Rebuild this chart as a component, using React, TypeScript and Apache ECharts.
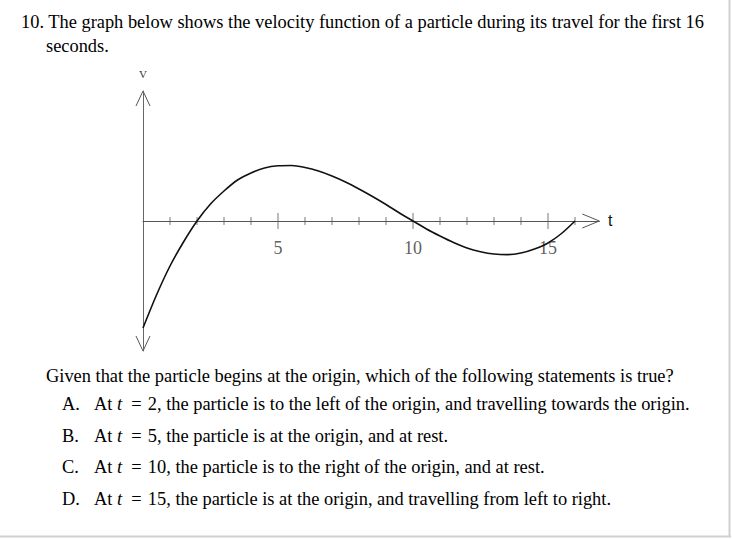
import React, { useEffect, useRef } from "react";
import * as echarts from "echarts";

// Velocity readings (t in seconds, v in grid units)
const tValues = [0, 0.5, 1, 1.5, 2, 2.5, 3, 3.5, 4, 4.5, 5, 5.5, 6, 6.5, 7, 7.5, 8, 8.5, 9, 9.5, 10, 10.5, 11, 11.5, 12, 12.5, 13, 13.5, 14, 14.5, 15, 15.5, 16];
const vValues = [-10.7, -7.4, -4.5, -2.1, 0, 1.7, 3.0, 4.1, 4.8, 5.3, 5.52, 5.55, 5.35, 5.0, 4.5, 3.9, 3.2, 2.45, 1.65, 0.8, 0, -0.8, -1.5, -2.15, -2.7, -3.07, -3.3, -3.36, -3.2, -2.8, -2.2, -1.25, 0];

// Tick marks on the t axis
const minorTicks = [1, 2, 3, 4, 6, 7, 8, 9, 11, 12, 13, 14, 16];
const majorTicks = [5, 10, 15];

const questionTitle = [
  "10. The graph below shows the velocity function of a particle during its travel for the first 16",
  "seconds.",
];
const questionPrompt =
  "Given that the particle begins at the origin, which of the following statements is true?";
const optionLetters = ["A.", "B.", "C.", "D."];
const optionTimes = [2, 5, 10, 15];
const optionTexts = [
  ", the particle is to the left of the origin, and travelling towards the origin.",
  ", the particle is at the origin, and at rest.",
  ", the particle is to the right of the origin, and at rest.",
  ", the particle is at the origin, and travelling from left to right.",
];

const SERIF = "'Liberation Serif', 'Times New Roman', serif";
const FS = 18.4;

export default function App() {
  const ref = useRef<HTMLDivElement>(null);

  useEffect(() => {
    if (!ref.current) return;
    const chart = echarts.init(ref.current, undefined, { renderer: "svg" });

    const xMax = 16.9;
    const yMin = -13;
    const yMax = 13;

    chart.setOption({
      animation: false,
      backgroundColor: "#ffffff",
      grid: { left: 143, top: 91, width: xMax * 27, height: 260 },
      xAxis: {
        type: "value",
        min: 0,
        max: xMax,
        interval: 1,
        axisLine: { show: true, onZero: true, lineStyle: { color: "#555", width: 1 } },
        axisTick: { show: false },
        splitLine: { show: false },
        axisLabel: { show: false },
      },
      yAxis: {
        type: "value",
        min: yMin,
        max: yMax,
        axisLine: { show: true, onZero: true, lineStyle: { color: "#666", width: 1 } },
        axisTick: { show: false },
        axisLabel: { show: false },
        splitLine: { show: false },
      },
      series: [
        {
          type: "scatter",
          symbol: "rect",
          symbolSize: [1, 8],
          itemStyle: { color: "#555" },
          data: minorTicks.map((t) => [t, 0]),
          silent: true,
          z: 1,
        },
        {
          type: "scatter",
          symbol: "rect",
          symbolSize: [1, 16],
          itemStyle: { color: "#555" },
          data: majorTicks.map((t) => [t, 0]),
          silent: true,
          z: 1,
          label: {
            show: true,
            position: "bottom",
            distance: 10,
            color: "#333",
            fontFamily: SERIF,
            fontSize: 18,
            formatter: (p: any) => String(p.value[0]),
          },
        },
        {
          type: "line",
          smooth: 0.3,
          showSymbol: false,
          lineStyle: { color: "#111", width: 1.6 },
          data: tValues.map((t, i) => [t, vValues[i]]),
          z: 3,
        },
      ],
    });

    const px = (x: number, y: number) =>
      chart.convertToPixel({ gridIndex: 0 }, [x, y]) as number[];

    const yTop = px(0, yMax);
    const yBot = px(0, yMin);
    const xEnd = px(xMax, 0);

    const arrowStyle = { stroke: "#555", lineWidth: 1, fill: "none" };

    const textEls: any[] = [];
    textEls.push({
      type: "text",
      style: { text: questionTitle[0], x: 21, y: 22, fontFamily: SERIF, fontSize: FS, fill: "#000", verticalAlign: "middle" },
    });
    textEls.push({
      type: "text",
      style: { text: questionTitle[1], x: 46, y: 46, fontFamily: SERIF, fontSize: FS, fill: "#000", verticalAlign: "middle" },
    });
    textEls.push({
      type: "text",
      style: { text: questionPrompt, x: 46, y: 376, fontFamily: SERIF, fontSize: FS, fill: "#000", verticalAlign: "middle" },
    });
    const optY = [404, 436, 467, 499];
    optionLetters.forEach((l, i) => {
      textEls.push({
        type: "text",
        style: { text: l, x: 62, y: optY[i], fontFamily: SERIF, fontSize: FS, fill: "#000", verticalAlign: "middle" },
      });
      textEls.push({
        type: "text",
        style: {
          text: "At {i|t}\u2002=\u2004" + optionTimes[i] + optionTexts[i],
          x: 94,
          y: optY[i],
          fontFamily: SERIF,
          fontSize: FS,
          fill: "#000",
          verticalAlign: "middle",
          rich: { i: { fontFamily: SERIF, fontSize: FS, fontStyle: "italic", fill: "#000" } },
        },
      });
    });

    chart.setOption({
      graphic: [
        // arrowheads
        {
          type: "polyline",
          shape: { points: [[yTop[0] - 7, yTop[1] + 15], [yTop[0], yTop[1]], [yTop[0] + 7, yTop[1] + 15]] },
          style: arrowStyle,
        },
        {
          type: "polyline",
          shape: { points: [[yBot[0] - 7, yBot[1] - 15], [yBot[0], yBot[1]], [yBot[0] + 7, yBot[1] - 15]] },
          style: arrowStyle,
        },
        {
          type: "polyline",
          shape: { points: [[xEnd[0] - 17, xEnd[1] - 7], [xEnd[0], xEnd[1]], [xEnd[0] - 17, xEnd[1] + 7]] },
          style: arrowStyle,
        },
        // axis names
        {
          type: "text",
          style: { text: "V", x: yTop[0], y: yTop[1] - 17, align: "center", verticalAlign: "middle", fontFamily: SERIF, fontSize: 11, fill: "#333" },
        },
        {
          type: "text",
          style: { text: "t", x: xEnd[0] + 11, y: xEnd[1] - 1, align: "center", verticalAlign: "middle", fontFamily: "'Liberation Sans', Arial, sans-serif", fontSize: 16, fill: "#111" },
        },
        ...textEls,
        // page frame
        { type: "line", shape: { x1: 729.5, y1: 0, x2: 729.5, y2: 537 }, style: { stroke: "#d0d0d0", lineWidth: 2 } },
        { type: "line", shape: { x1: 0, y1: 536.5, x2: 731, y2: 536.5 }, style: { stroke: "#d0d0d0", lineWidth: 2 } },
      ],
    });

    return () => chart.dispose();
  }, []);

  return (
    <div
      ref={ref}
      style={{ position: "absolute", left: 0, top: 0, width: 732, height: 539 }}
    />
  );
}
